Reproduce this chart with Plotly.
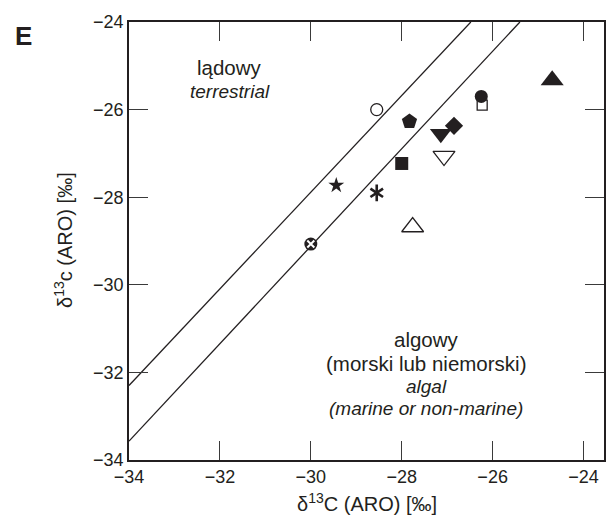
import plotly.graph_objects as go

# ---- data ----
x_tickvals = [-34, -32, -30, -28, -26, -24]
x_ticktext = ["−34", "−32", "−30", "−28", "−26", "−24"]
y_tickvals = [-34, -32, -30, -28, -26, -24]
y_ticktext = ["−34", "−32", "−30", "−28", "−26", "−24"]

upper_line_x = [-34.0, -26.48]
upper_line_y = [-32.30, -24.0]
lower_line_x = [-34.0, -25.40]
lower_line_y = [-33.57, -24.0]

sample_names = ["open circle", "pentagon", "open square", "filled circle", "triangle up",
                "triangle down", "diamond", "open triangle down", "filled square", "star",
                "asterisk", "open triangle up", "crossed circle"]
sample_x = [-28.55, -27.83, -26.23, -26.25, -24.69, -27.14, -26.85, -27.07, -28.00, -29.44,
            -28.55, -27.76, -30.00]
sample_y = [-26.00, -26.27, -25.90, -25.70, -25.33, -26.55, -26.37, -27.06, -27.23, -27.73,
            -27.90, -28.68, -29.07]

# ---- styles ----
INK = "#231f20"
FONT = "Liberation Sans, Arial, sans-serif"
styles = [
    dict(symbol="circle", size=12, color="white", line=dict(color=INK, width=1.3)),
    dict(symbol="pentagon", size=16, color=INK, line=dict(width=0)),
    dict(symbol="square", size=10, color="white", line=dict(color=INK, width=1.3)),
    dict(symbol="circle", size=13, color=INK, line=dict(width=0)),
    dict(symbol="triangle-up", size=20, color=INK, line=dict(width=0)),
    dict(symbol="triangle-down", size=19, color=INK, line=dict(width=0)),
    dict(symbol="diamond", size=14, color=INK, line=dict(width=0)),
    dict(symbol="triangle-down", size=19, color="white", line=dict(color=INK, width=1.3)),
    dict(symbol="square", size=13, color=INK, line=dict(width=0)),
    dict(symbol="star", size=12, color=INK, line=dict(width=0)),
    None,
    dict(symbol="triangle-up", size=19, color="white", line=dict(color=INK, width=1.3)),
    None,
]

fig = go.Figure()
for lx, ly in [(upper_line_x, upper_line_y), (lower_line_x, lower_line_y)]:
    fig.add_trace(go.Scatter(x=lx, y=ly, mode="lines",
                             line=dict(color=INK, width=1.3), hoverinfo="skip"))

for i, name in enumerate(sample_names):
    st = styles[i]
    if name == "asterisk":
        for sym in ["y-up-open", "y-down-open"]:
            fig.add_trace(go.Scatter(x=[sample_x[i]], y=[sample_y[i]], mode="markers", name=name,
                                     marker=dict(symbol=sym, size=10.5, color=INK,
                                                 line=dict(color=INK, width=2.6))))
    elif name == "crossed circle":
        fig.add_trace(go.Scatter(x=[sample_x[i]], y=[sample_y[i]], mode="markers", name=name,
                                 marker=dict(symbol="circle", size=13, color=INK, line=dict(width=0))))
        fig.add_trace(go.Scatter(x=[sample_x[i]], y=[sample_y[i]], mode="markers", name=name,
                                 marker=dict(symbol="x-thin-open", size=7, color="white",
                                             line=dict(color="white", width=2))))
    else:
        fig.add_trace(go.Scatter(x=[sample_x[i]], y=[sample_y[i]], mode="markers", name=name,
                                 marker=st))

axis_common = dict(
    showline=True, linecolor=INK, linewidth=1.6, mirror="ticks",
    ticks="inside", ticklen=19, tickwidth=1.3, tickcolor="#3a3a3a",
    showgrid=False, zeroline=False,
    tickfont=dict(family=FONT, size=18, color=INK),
)
fig.update_xaxes(range=[-34, -23.55], tickvals=x_tickvals, ticktext=x_ticktext, **axis_common)
fig.update_yaxes(range=[-34, -24], tickvals=y_tickvals, ticktext=y_ticktext, **axis_common)

ann = []
def txt(x, y, s, size, italic=False, xref="x", yref="y", angle=0, bold=False):
    if italic:
        s = "<i>" + s + "</i>"
    if bold:
        s = "<b>" + s + "</b>"
    ann.append(dict(x=x, y=y, xref=xref, yref=yref, text=s, showarrow=False,
                    xanchor="center", yanchor="middle", textangle=angle,
                    font=dict(family=FONT, size=size, color=INK)))

txt(-31.78, -25.03, "lądowy", 20.5)
txt(-31.78, -25.58, "terrestrial", 19, italic=True)
txt(-27.46, -31.26, "algowy", 20.5)
txt(-27.46, -31.79, "(morski lub niemorski)", 20.5)
txt(-27.46, -32.33, "algal", 19, italic=True)
txt(-27.46, -32.83, "(marine or non-marine)", 19, italic=True)
txt(0.5, -0.098, "δ<sup>13</sup>C (ARO) [‰]", 20, xref="paper", yref="paper")
txt(-0.1394, 0.502, "δ<sup>13</sup>c (ARO) [‰]", 20, xref="paper", yref="paper", angle=-90)
txt(-0.222, 0.968, "E", 26, xref="paper", yref="paper", bold=True)

fig.update_layout(
    width=615, height=517,
    margin=dict(l=129, r=9, t=22, b=57),
    paper_bgcolor="white", plot_bgcolor="white",
    showlegend=False,
    annotations=ann,
)

fig.write_html("out.html")
